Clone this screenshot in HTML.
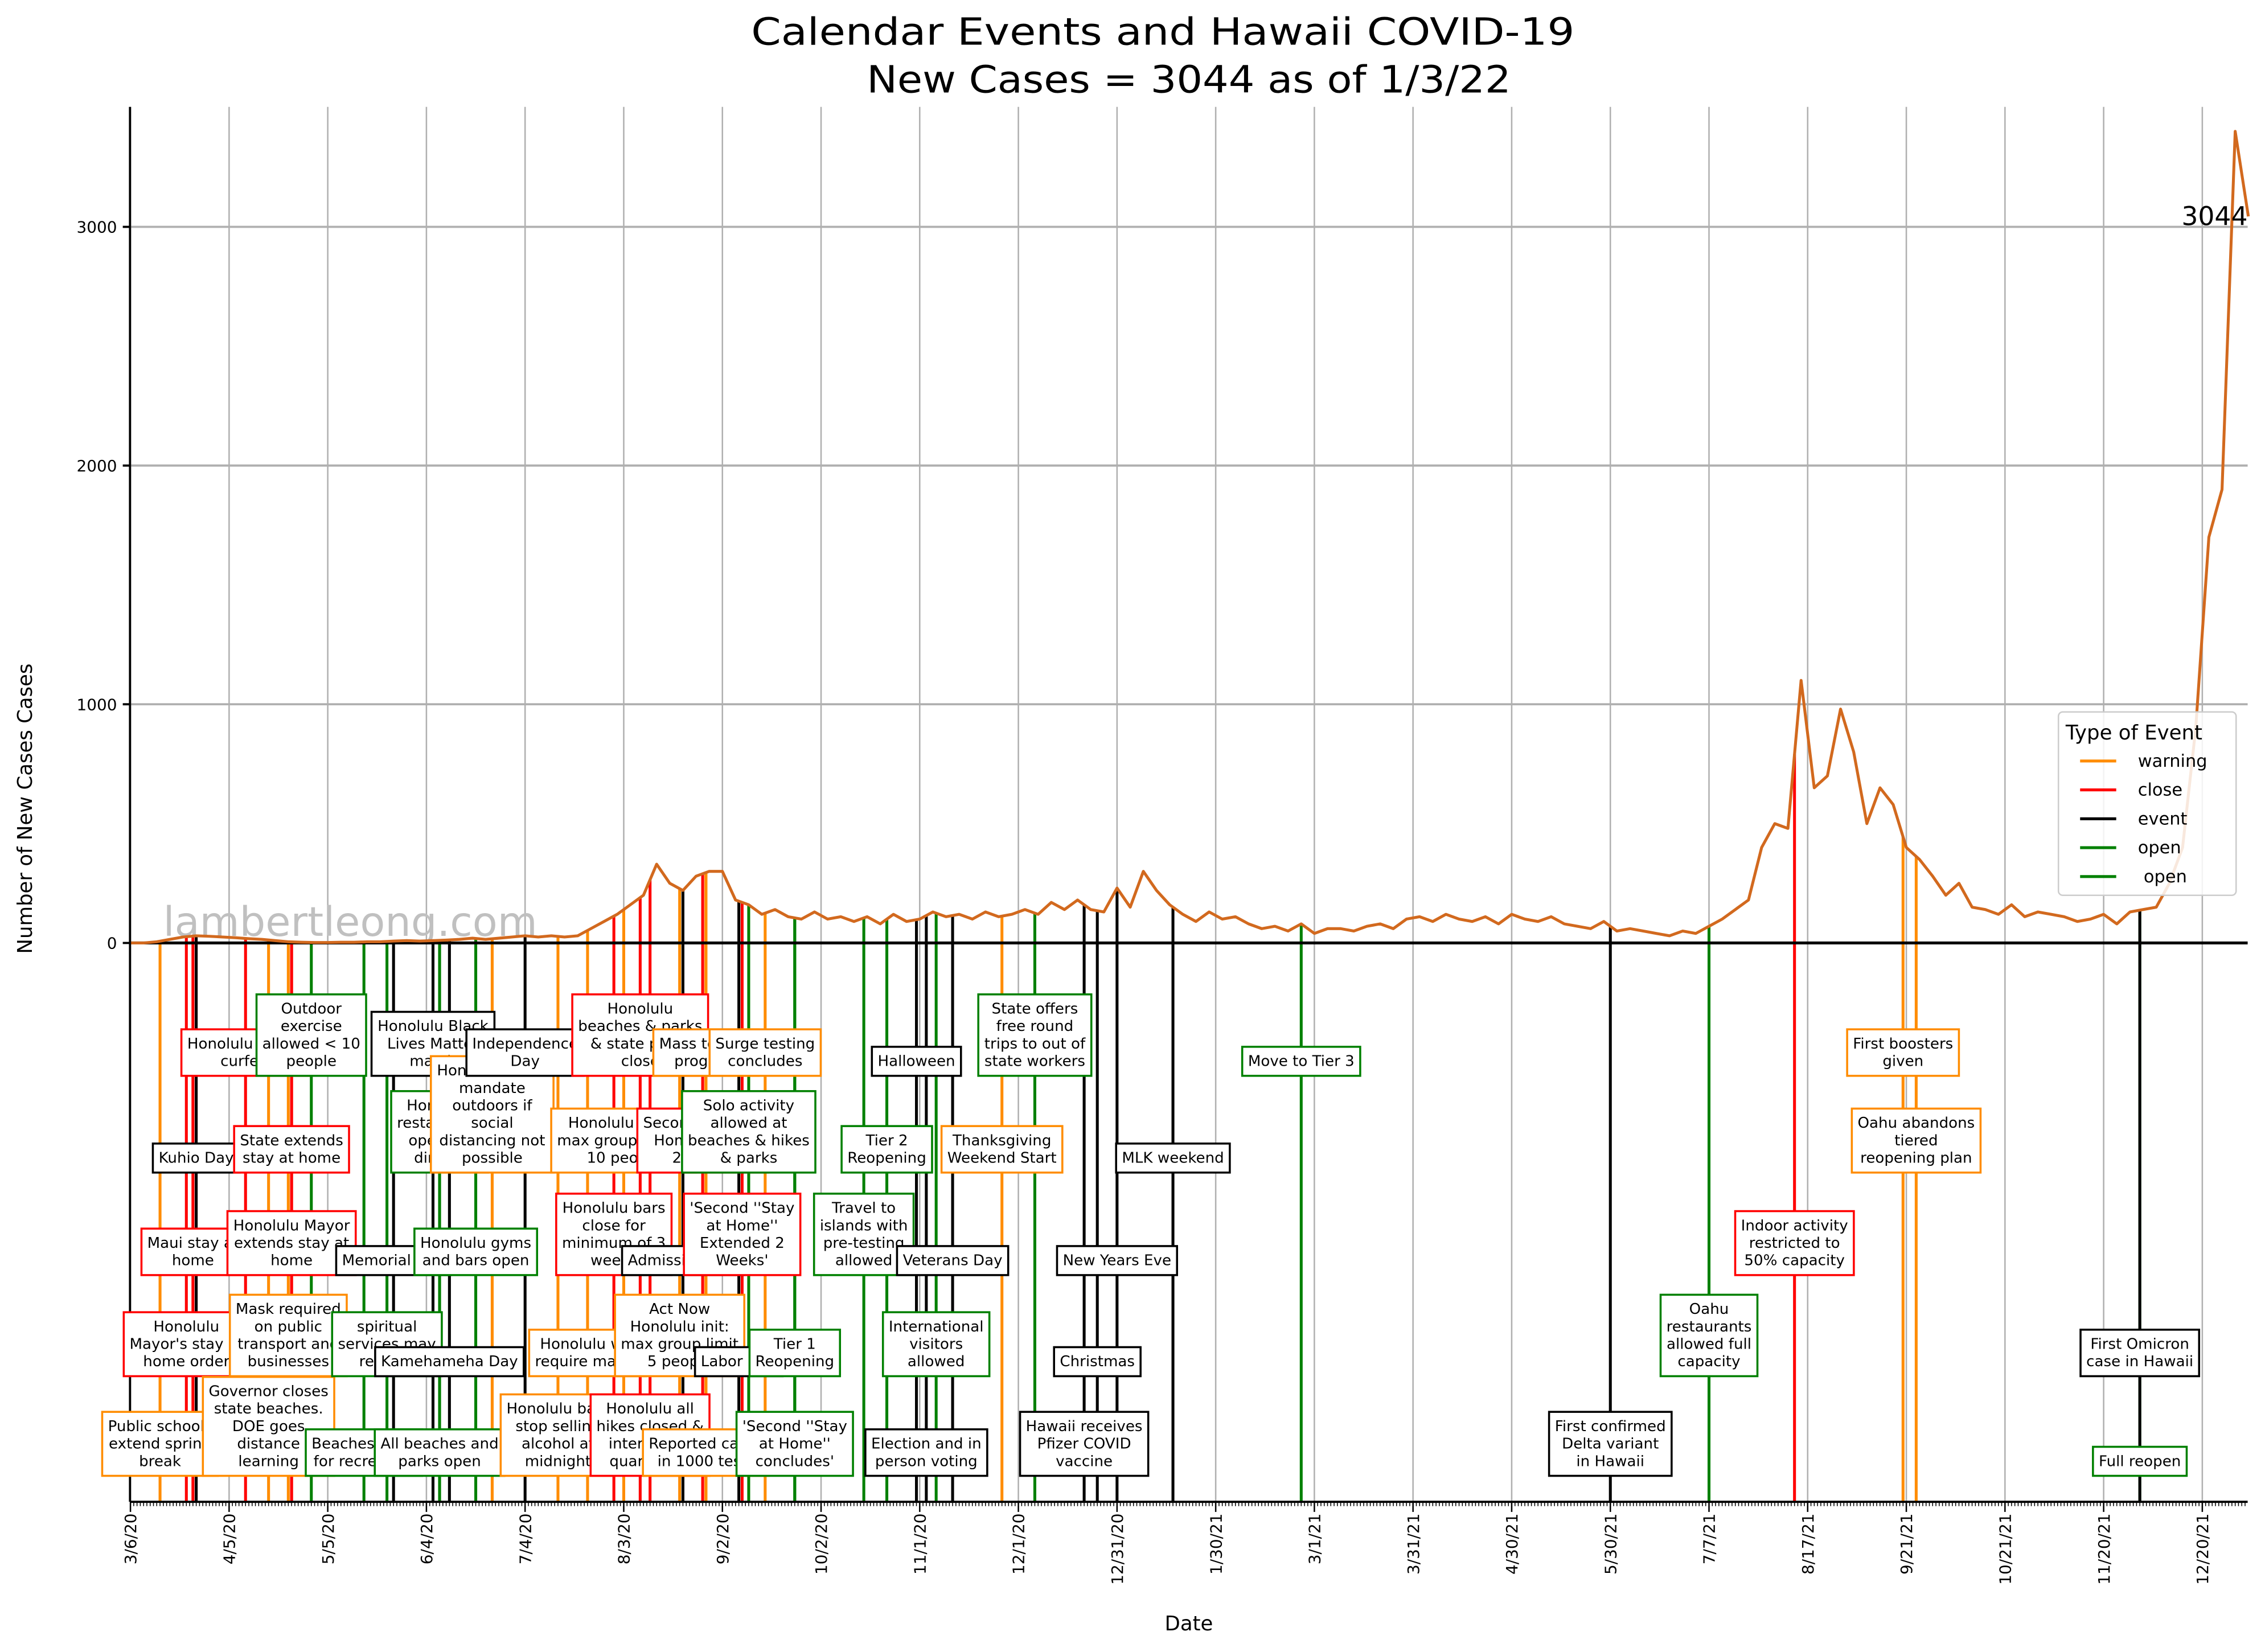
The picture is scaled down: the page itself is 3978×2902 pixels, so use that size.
<!DOCTYPE html>
<html><head><meta charset="utf-8"><style>
html,body{margin:0;padding:0;background:#fff;}
svg{display:block;font-family:"DejaVu Sans","Liberation Sans",sans-serif;}
</style></head><body>
<svg id="chart" width="3978" height="2902" viewBox="0 0 1568 1144" preserveAspectRatio="none" xmlns="http://www.w3.org/2000/svg">
<rect width="1568" height="1144" fill="#fff"/>
<text x="805" y="31" font-size="26" text-anchor="middle" textLength="570" lengthAdjust="spacingAndGlyphs">Calendar Events and Hawaii COVID-19</text>
<text x="823" y="64" font-size="26" text-anchor="middle" textLength="446" lengthAdjust="spacingAndGlyphs">New Cases = 3044 as of 1/3/22</text>
<g id="grid"></g>
<text x="113" y="648" font-size="28" fill="#c0c0c0" textLength="259" lengthAdjust="spacingAndGlyphs">lambertleong.com</text>
<g id="events"></g>
<g id="series"></g>
<g id="axes"></g>
<g id="boxes"></g>
<text x="1556" y="156" font-size="18" text-anchor="end">3044</text>
<text transform="translate(22,560) rotate(-90)" font-size="14" text-anchor="middle">Number of New Cases Cases</text>
<text x="823" y="1129" font-size="14" text-anchor="middle">Date</text>
<g>
<rect x="1425" y="493" width="123" height="127" rx="3" fill="#fff" fill-opacity="0.85" stroke="#ccc" stroke-width="1"/>
<text x="1430" y="512" font-size="14">Type of Event</text>
<line x1="1440" y1="527" x2="1465" y2="527" stroke="#ff8c00" stroke-width="2"/><text x="1480" y="531" font-size="12">warning</text>
<line x1="1440" y1="547" x2="1465" y2="547" stroke="#ff0000" stroke-width="2"/><text x="1480" y="551" font-size="12">close</text>
<line x1="1440" y1="567" x2="1465" y2="567" stroke="#000" stroke-width="2"/><text x="1480" y="571" font-size="12">event</text>
<line x1="1440" y1="587" x2="1465" y2="587" stroke="#008000" stroke-width="2"/><text x="1480" y="591" font-size="12">open</text>
<line x1="1440" y1="607" x2="1465" y2="607" stroke="#008000" stroke-width="2"/><text x="1484" y="611" font-size="12">open</text>
</g>
</svg>
<script>
// ---- data ----
const tickLabels = ["3/6/20","4/5/20","5/5/20","6/4/20","7/4/20","8/3/20","9/2/20","10/2/20","11/1/20","12/1/20","12/31/20","1/30/21","3/1/21","3/31/21","4/30/21","5/30/21","7/7/21","8/17/21","9/21/21","10/21/21","11/20/21","12/20/21"];
const yTicks = [0,1000,2000,3000];
const stepDays = 4;
const cases = [0,0,5,15,25,30,28,25,22,18,15,10,5,3,2,2,3,3,5,5,8,10,8,10,12,15,20,15,20,25,30,25,30,25,30,60,90,120,160,200,330,250,220,280,300,300,180,160,120,140,110,100,130,100,110,90,110,80,120,90,100,130,110,120,100,130,110,120,140,120,170,140,180,140,130,230,150,300,220,160,120,90,130,100,110,80,60,70,50,80,40,60,60,50,70,80,60,100,110,90,120,100,90,110,80,120,100,90,110,80,70,60,90,50,60,50,40,30,50,40,70,100,140,180,400,500,480,1100,650,700,980,800,500,650,580,400,350,280,200,250,150,140,120,160,110,130,120,110,90,100,120,80,130,140,150,250,400,900,1700,1900,3400,3044];
const eventDays = [9,17,19,20,35,42,48,49,49,55,71,78,80,92,94,94,97,105,110,120,130,139,147,150,155,158,167,168,174,175,175,185,186,188,193,202,202,223,230,239,242,245,250,265,275,290,294,300,317,356,450,480,506,539,543,611,611];
const eventTypes = ["warning","close","close","event","close","warning","warning","close","close","open","open","open","event","event","open","open","event","open","warning","event","warning","warning","close","warning","close","close","warning","event","close","warning","warning","event","close","open","warning","open","open","open","open","event","event","open","event","warning","open","event","event","event","event","open","event","open","close","warning","warning","open","event"];
const eventRows = ["E","D","C","B","A","E","D","B","C","A","E","D","C","A","B","E","D","C","B","A","E","D","C","B","A","E","D","C","B","A","E","D","C","B","A","E","D","C","B","A","E","D","C","B","A","E","D","C","B","A","E","D","C","A","B","E","D"];
const eventTexts = ["Public schools\nextend spring\nbreak","Honolulu\nMayor's stay at\nhome order","Maui stay at\nhome","Kuhio Day","Honolulu Mayor\ncurfew","Governor closes\nstate beaches.\nDOE goes\ndistance\nlearning","Mask required\non public\ntransport and\nbusinesses","State extends\nstay at home","Honolulu Mayor\nextends stay at\nhome","Outdoor\nexercise\nallowed < 10\npeople","Beaches open\nfor recreation","spiritual\nservices may\nresume","Memorial Day","Honolulu Black\nLives Matter\nmarch","Honolulu\nrestaurants\nopen for\ndine-in","All beaches and\nparks open","Kamehameha Day","Honolulu gyms\nand bars open","Honolulu mask\nmandate\noutdoors if\nsocial\ndistancing not\npossible","Independence\nDay","Honolulu bars\nstop selling\nalcohol at\nmidnight","Honolulu will\nrequire masks","Honolulu bars\nclose for\nminimum of 3\nweeks","Honolulu limits\nmax group size to\n10 people","Honolulu\nbeaches & parks\n& state parks\nclose","Honolulu all\nhikes closed &\ninter-island\nquarantine","Act Now\nHonolulu init:\nmax group limit\n5 people","Admission Day","Second \"Stay at\nHome\" Order\n2 weeks","Mass testing\nprogram","Reported cases\nin 1000 tests","Labor Day","'Second ''Stay\nat Home''\nExtended 2\nWeeks'","Solo activity\nallowed at\nbeaches & hikes\n& parks","Surge testing\nconcludes","'Second ''Stay\nat Home''\nconcludes'","Tier 1\nReopening","Travel to\nislands with\npre-testing\nallowed","Tier 2\nReopening","Halloween","Election and in\nperson voting","International\nvisitors\nallowed","Veterans Day","Thanksgiving\nWeekend Start","State offers\nfree round\ntrips to out of\nstate workers","Hawaii receives\nPfizer COVID\nvaccine","Christmas","New Years Eve","MLK weekend","Move to Tier 3","First confirmed\nDelta variant\nin Hawaii","Oahu\nrestaurants\nallowed full\ncapacity","Indoor activity\nrestricted to\n50% capacity","First boosters\ngiven","Oahu abandons\ntiered\nreopening plan","Full reopen","First Omicron\ncase in Hawaii"];
// ---- scales ----
const X0=90.3, PX_PER_DAY=68.3/30, Y0=653, PX_PER_CASE=165.3/1000, PLOT_L=90, PLOT_R=1556, PLOT_T=74, PLOT_B=1040;
const rowBottom={A:745,B:812,C:883,D:953,E:1022};
const colors={warning:"#ff8c00",close:"#ff0000",event:"#000000",open:"#008000"};
function xs(d){return X0+d*PX_PER_DAY;}
function ys(v){return Y0-v*PX_PER_CASE;}
const NS="http://www.w3.org/2000/svg";
function mk(tag,attrs,parent){const e=document.createElementNS(NS,tag);for(const k in attrs)e.setAttribute(k,attrs[k]);parent.appendChild(e);return e;}
function valueAt(d){const i=d/stepDays;const a=Math.floor(i),b=Math.min(a+1,cases.length-1);const t=i-a;return cases[Math.min(a,cases.length-1)]*(1-t)+cases[b]*t;}
const grid=document.getElementById('grid'),axes=document.getElementById('axes'),ev=document.getElementById('events'),ser=document.getElementById('series'),bx=document.getElementById('boxes');
tickLabels.forEach((lab,i)=>{
  const x=xs(i*30);
  const g=mk('line',{x1:x,y1:PLOT_T,x2:x,y2:PLOT_B,stroke:'#b0b0b0','stroke-width':1},grid);
  
  
  const tk=mk('line',{x1:x,y1:PLOT_B,x2:x,y2:PLOT_B+7,stroke:'#000','stroke-width':1},axes);
  
  
  const t=mk('text',{transform:`translate(${x+4},1048) rotate(-90)`,'font-size':11,'text-anchor':'end'},axes);
  t.textContent=lab;
  
  
});
yTicks.forEach(v=>{
  const y=ys(v);
  if(v>0){const g=mk('line',{x1:PLOT_L,y1:y,x2:PLOT_R,y2:y,stroke:'#b0b0b0','stroke-width':1.5},grid);
  
  }
  mk('line',{x1:PLOT_L-5,y1:y,x2:PLOT_L,y2:y,stroke:'#000','stroke-width':1.5},axes);
  const t=mk('text',{x:PLOT_L-9,y:y+4,'font-size':11,'text-anchor':'end'},axes);
  t.textContent=v;
  
  
});
let mp='';for(let d=0;xs(d)<=PLOT_R;d++){const x=xs(d).toFixed(2);mp+=`M${x} ${PLOT_B}V${PLOT_B+3}`;}
mk('path',{d:mp,stroke:'#000','stroke-width':0.6},axes);
eventDays.forEach((d,i)=>{
  const l=mk('line',{x1:xs(d),y1:PLOT_B,x2:xs(d),y2:ys(Math.max(valueAt(d),0)),stroke:colors[eventTypes[i]],'stroke-width':2},ev);
  
  
});
const z=mk('line',{x1:PLOT_L,y1:Y0,x2:PLOT_R,y2:Y0,stroke:'#000','stroke-width':2},ser);


const pts=cases.map((v,i)=>xs(i*stepDays).toFixed(2)+','+ys(v).toFixed(2)).join(' ');
const pl=mk('polyline',{points:pts,fill:'none',stroke:'#d2691e','stroke-width':2,'stroke-linejoin':'round'},ser);


mk('line',{x1:PLOT_L,y1:PLOT_T,x2:PLOT_L,y2:PLOT_B,stroke:'#000','stroke-width':1.5},axes);
mk('line',{x1:PLOT_L,y1:PLOT_B,x2:PLOT_R,y2:PLOT_B,stroke:'#000','stroke-width':1.5},axes);
const LH=12.1,FS=10.3,PAD=4;
eventDays.forEach((d,i)=>{
  const lines=eventTexts[i].split('\n');
  const g=mk('g',{},bx);
  
  
  const h=lines.length*LH+2*PAD, bot=rowBottom[eventRows[i]], top=bot-h, cx=xs(d);
  const r=mk('rect',{x:cx,y:top,width:1,height:h,fill:'#fff',stroke:colors[eventTypes[i]],'stroke-width':1.4},g);
  const t=mk('text',{'font-size':FS,'text-anchor':'middle'},g);
  let w=0;
  lines.forEach((ln,j)=>{const s=mk('tspan',{x:cx,y:top+PAD+9.3+j*LH},t);s.textContent=ln;});
  try{w=t.getBBox().width;}catch(e){w=Math.max(...lines.map(l=>l.length))*6.2;}
  r.setAttribute('x',cx-w/2-PAD);
  r.setAttribute('width',w+2*PAD);
});
</script>
</body></html>
